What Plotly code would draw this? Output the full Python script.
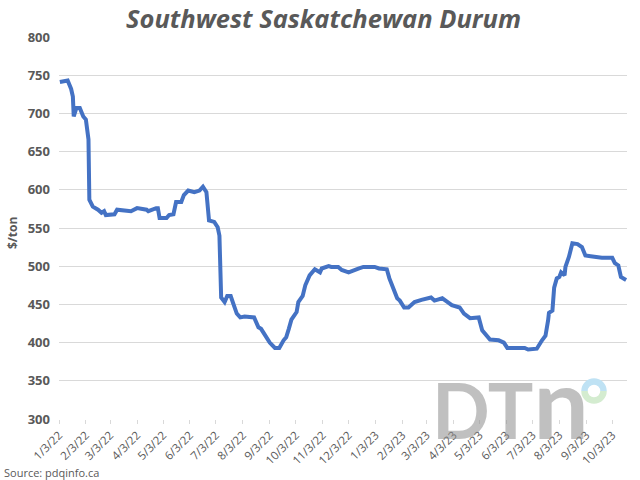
import plotly.graph_objects as go

dates = [
    "2022-01-04", "2022-01-13", "2022-01-17", "2022-01-19", "2022-01-20", "2022-01-23",
    "2022-01-27", "2022-01-31", "2022-02-03", "2022-02-06", "2022-02-07", "2022-02-11",
    "2022-02-17", "2022-02-21", "2022-02-24", "2022-02-26", "2022-03-08", "2022-03-11",
    "2022-03-27", "2022-04-03", "2022-04-14", "2022-04-16", "2022-04-25", "2022-04-27",
    "2022-04-29", "2022-05-07", "2022-05-10", "2022-05-15", "2022-05-18", "2022-05-24",
    "2022-05-27", "2022-06-01", "2022-06-08", "2022-06-14", "2022-06-18", "2022-06-22",
    "2022-06-25", "2022-07-01", "2022-07-05", "2022-07-07", "2022-07-09", "2022-07-13",
    "2022-07-16", "2022-07-20", "2022-07-23", "2022-07-27", "2022-07-31", "2022-08-05",
    "2022-08-16", "2022-08-21", "2022-08-24", "2022-08-28", "2022-09-03", "2022-09-09",
    "2022-09-14", "2022-09-19", "2022-09-22", "2022-09-25", "2022-09-28", "2022-10-04",
    "2022-10-06", "2022-10-11", "2022-10-14", "2022-10-19", "2022-10-25", "2022-10-31",
    "2022-11-02", "2022-11-10", "2022-11-13", "2022-11-21", "2022-11-25", "2022-12-03",
    "2022-12-09", "2022-12-15", "2022-12-20", "2023-01-02", "2023-01-07", "2023-01-16",
    "2023-01-19", "2023-01-24", "2023-01-28", "2023-01-31", "2023-02-05", "2023-02-10",
    "2023-02-17", "2023-02-25", "2023-03-08", "2023-03-12", "2023-03-21", "2023-03-26",
    "2023-04-01", "2023-04-10", "2023-04-15", "2023-04-22", "2023-04-30", "2023-05-02",
    "2023-05-06", "2023-05-12", "2023-05-15", "2023-05-25", "2023-05-31", "2023-06-04",
    "2023-06-13", "2023-06-24", "2023-06-28", "2023-07-06", "2023-07-08", "2023-07-14",
    "2023-07-18", "2023-07-21", "2023-07-22", "2023-07-26", "2023-07-28", "2023-07-31",
    "2023-08-03", "2023-08-05", "2023-08-09", "2023-08-10", "2023-08-14", "2023-08-18",
    "2023-08-24", "2023-08-29", "2023-09-02", "2023-09-08", "2023-09-13", "2023-09-21",
    "2023-09-30", "2023-10-03", "2023-10-06", "2023-10-10", "2023-10-13", "2023-10-19",
]
prices = [
    741, 743, 732, 722, 696, 707,
    707, 696, 692, 666, 587, 578,
    574, 570, 572, 567, 568, 574,
    572, 576, 574, 572, 576, 576,
    563, 563, 567, 568, 584, 584,
    593, 599, 597, 599, 604, 597,
    560, 558, 551, 540, 459, 453,
    461, 461, 451, 438, 433, 434,
    433, 420, 418, 411, 400, 393,
    393, 403, 407, 418, 430, 440,
    453, 461, 475, 488, 496, 492,
    497, 500, 499, 499, 495, 492,
    495, 497, 499, 499, 497, 496,
    484, 468, 458, 455, 446, 446,
    453, 456, 459, 455, 458, 454,
    449, 446, 438, 432, 432, 433,
    416, 407, 404, 403, 400, 393,
    393, 393, 391, 391, 392, 403,
    409, 429, 439, 442, 472, 484,
    486, 492, 488, 499, 512, 530,
    529, 525, 514, 513, 512, 511,
    511, 511, 504, 501, 486, 482,
]

tick_dates = [
    "2022-01-03", "2022-02-03", "2022-03-03", "2022-04-03", "2022-05-03", "2022-06-03",
    "2022-07-03", "2022-08-03", "2022-09-03", "2022-10-03", "2022-11-03", "2022-12-03",
    "2023-01-03", "2023-02-03", "2023-03-03", "2023-04-03", "2023-05-03", "2023-06-03",
    "2023-07-03", "2023-08-03", "2023-09-03", "2023-10-03",
]
tick_labels = [
    "1/3/22", "2/3/22", "3/3/22", "4/3/22", "5/3/22", "6/3/22", "7/3/22", "8/3/22",
    "9/3/22", "10/3/22", "11/3/22", "12/3/22", "1/3/23", "2/3/23", "3/3/23", "4/3/23",
    "5/3/23", "6/3/23", "7/3/23", "8/3/23", "9/3/23", "10/3/23",
]
y_ticks = [300, 350, 400, 450, 500, 550, 600, 650, 700, 750, 800]

TXT = "#595959"
FONT = "Open Sans"
PL, PR, PT, PB = 59, 627, 37, 419  # plot area in page pixels
PW, PH = PR - PL, PB - PT

fig = go.Figure()
fig.add_trace(go.Scatter(
    x=dates, y=prices, mode="lines",
    line=dict(color="#4472C4", width=4),
    hoverinfo="skip", showlegend=False,
))

fig.update_layout(
    width=640, height=480,
    margin=dict(l=PL, r=640 - PR, t=PT, b=480 - PB, autoexpand=False),
    paper_bgcolor="white", plot_bgcolor="white",
    font=dict(family=FONT, color=TXT, size=12),
    xaxis=dict(
        type="date",
        range=["2022-01-03", "2023-10-20"],
        tickmode="array", tickvals=tick_dates, ticktext=tick_labels,
        tickangle=-45, ticks="outside", ticklen=4, tickcolor="#d9d9d9",
        showgrid=False, zeroline=False, showline=False, automargin=False,
        tickfont=dict(family=FONT, size=11.5, color=TXT),
    ),
    yaxis=dict(
        range=[300, 800], tickmode="array", tickvals=y_ticks,
        showgrid=True, gridcolor="#d9d9d9", gridwidth=1.3,
        zeroline=False, showline=False, ticks="", automargin=False,
        tickfont=dict(family=FONT, size=13, color=TXT, weight="bold"),
        ticklabelstandoff=8,
    ),
    annotations=[
        dict(text="<b><i>Southwest Saskatchewan Durum</i></b>", xref="paper", yref="paper",
             x=(323 - PL) / PW, y=1, yshift=19, showarrow=False,
             font=dict(size=25.5, color=TXT, family=FONT), xanchor="center", yanchor="middle"),
        dict(text="<b>$/ton</b>", xref="paper", yref="paper",
             x=0, xshift=-47, y=(PB - 233) / PH, textangle=-90, showarrow=False,
             font=dict(size=12, color=TXT, family=FONT), xanchor="center", yanchor="middle"),
        dict(text="Source: pdqinfo.ca", xref="paper", yref="paper",
             x=0, xshift=-57, y=0, yshift=-53, showarrow=False,
             font=dict(size=11, color=TXT, family=FONT), xanchor="left", yanchor="middle"),
        dict(text="<b>DT<span style='font-size:98px'>n</span></b>", xref="paper", yref="paper",
             x=(430 - PL) / PW, y=(PB - 438) / PH, showarrow=False,
             font=dict(size=76, color="rgba(140,140,140,0.55)", family="Lato"),
             xanchor="left", yanchor="bottom", yshift=-24),
    ],
)

# DTN ring (upper half blue, lower half green)
cx, cy = (594 - PL) / PW, (PB - 391) / PH
r, k = 9.5, 0.5523
upper = (f"M {-r} 0 C {-r} {k*r} {-k*r} {r} 0 {r} C {k*r} {r} {r} {k*r} {r} 0")
lower = (f"M {-r} 0 C {-r} {-k*r} {-k*r} {-r} 0 {-r} C {k*r} {-r} {r} {-k*r} {r} 0")
for p, c in [(upper, "#bfe2f4"), (lower, "#d4ecd0")]:
    fig.add_shape(type="path", path=p, xref="paper", yref="paper",
                  xsizemode="pixel", ysizemode="pixel", xanchor=cx, yanchor=cy,
                  line=dict(color=c, width=6.5))

fig.write_html("out.html", config={"displayModeBar": False},
               post_script="document.body.style.margin='0';")
